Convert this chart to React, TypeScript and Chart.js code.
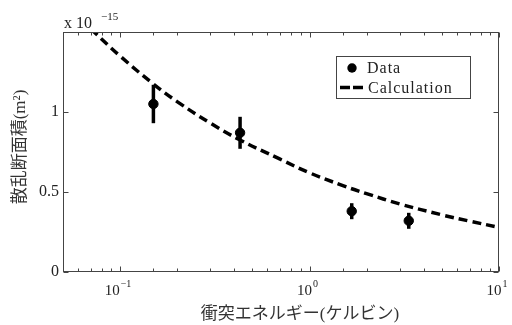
import React, { useEffect, useRef } from 'react';
import { Chart, registerables } from 'chart.js';

Chart.register(...registerables);

// Measured data (cross section in units of 1e-15 m^2)
const dataEnergies = [0.15, 0.43, 1.67, 3.34];
const dataCrossSections = [1.05, 0.87, 0.38, 0.32];
const dataErrors = [0.12, 0.1, 0.05, 0.05];

// Calculation curve
const calcEnergies = [0.07, 0.1, 0.15, 0.2, 0.3, 0.43, 0.7, 1, 1.5, 2, 3, 5, 7, 10];
const calcCrossSections = [1.52, 1.35, 1.175, 1.065, 0.93, 0.825, 0.705, 0.62, 0.54, 0.49, 0.425, 0.357, 0.318, 0.279];

// Tick labels
const yTickValues = [0, 0.5, 1];
const yTickLabels = ['0', '0.5', '1'];
const xLabelValues = [0.1, 1, 10];
const xLabelBases = ['10', '10', '10'];
const xLabelExponents = ['\u22121', '0', '1'];

const xTitle = '衝突エネルギー(ケルビン)';
const yTitle = '散乱断面積(m²)';
const legendLabels = ['Data', 'Calculation'];
const multiplierBase = 'x 10';
const multiplierExp = '\u221215';

const SERIF = '"Liberation Serif", "Noto Sans CJK JP", serif';
const TEXT = '#222';
const AXIS = '#444';

const decorPlugin = {
  id: 'decor',
  afterDatasetsDraw(chart: any) {
    const { ctx, scales } = chart;
    const x = scales.x;
    const y = scales.y;
    ctx.save();
    ctx.strokeStyle = '#000';
    ctx.lineWidth = 3.5;
    ctx.lineCap = 'butt';
    dataEnergies.forEach((e, i) => {
      const px = x.getPixelForValue(e);
      ctx.beginPath();
      ctx.moveTo(px, y.getPixelForValue(dataCrossSections[i] + dataErrors[i]));
      ctx.lineTo(px, y.getPixelForValue(dataCrossSections[i] - dataErrors[i]));
      ctx.stroke();
    });
    ctx.restore();
  },
  afterDraw(chart: any) {
    const { ctx, chartArea: a, scales } = chart;
    const x = scales.x;
    const y = scales.y;
    ctx.save();
    // frame
    ctx.strokeStyle = AXIS;
    ctx.lineWidth = 1;
    const L = Math.round(a.left) + 0.5;
    const R = Math.round(a.right) - 0.5;
    const T = Math.round(a.top) + 0.5;
    const B = Math.round(a.bottom) - 0.5;
    ctx.strokeRect(L, T, R - L, B - T);

    // x ticks (inward, bottom and top)
    x.ticks.forEach((t: any) => {
      const v = t.value;
      const lg = Math.log10(v);
      const major = Math.abs(lg - Math.round(lg)) < 1e-6;
      const len = major ? 5 : 3;
      const px = Math.round(x.getPixelForValue(v)) + 0.5;
      ctx.beginPath();
      ctx.moveTo(px, B);
      ctx.lineTo(px, B - len);
      ctx.moveTo(px, T);
      ctx.lineTo(px, T + len);
      ctx.stroke();
    });
    // y ticks (inward, left and right)
    y.ticks.forEach((t: any) => {
      const py = Math.round(y.getPixelForValue(t.value)) + 0.5;
      ctx.beginPath();
      ctx.moveTo(L, py);
      ctx.lineTo(L + 5, py);
      ctx.moveTo(R, py);
      ctx.lineTo(R - 5, py);
      ctx.stroke();
    });

    // x tick labels with superscripts
    ctx.fillStyle = TEXT;
    ctx.textBaseline = 'alphabetic';
    ctx.textAlign = 'left';
    xLabelValues.forEach((v, i) => {
      const px = x.getPixelForValue(v);
      ctx.font = `15px ${SERIF}`;
      const wb = ctx.measureText(xLabelBases[i]).width;
      ctx.font = `10px ${SERIF}`;
      const we = ctx.measureText(xLabelExponents[i]).width;
      const total = wb + 1 + we;
      const sx = px - total / 2 - 2;
      ctx.font = `15px ${SERIF}`;
      ctx.fillText(xLabelBases[i], sx, 295);
      ctx.font = `10px ${SERIF}`;
      ctx.fillText(xLabelExponents[i], sx + wb + 1, 287);
    });

    // multiplier
    ctx.font = `16px ${SERIF}`;
    ctx.fillText(multiplierBase, 64, 28);
    ctx.font = `11px ${SERIF}`;
    ctx.fillText(multiplierExp, 101, 20);

    // x title
    ctx.font = `17px ${SERIF}`;
    ctx.textAlign = 'center';
    ctx.textBaseline = 'middle';
    ctx.fillStyle = '#333';
    ctx.fillText(xTitle, 300, 315);

    // y title
    ctx.save();
    ctx.translate(21, 147);
    ctx.rotate(-Math.PI / 2);
    ctx.fillText(yTitle, 0, 0);
    ctx.restore();

    // legend
    ctx.fillStyle = '#fff';
    ctx.fillRect(336.5, 56.5, 134, 42);
    ctx.strokeStyle = AXIS;
    ctx.lineWidth = 1;
    ctx.strokeRect(336.5, 56.5, 134, 42);
    ctx.fillStyle = '#000';
    ctx.beginPath();
    ctx.arc(352, 68, 4.7, 0, Math.PI * 2);
    ctx.fill();
    ctx.strokeStyle = '#000';
    ctx.lineWidth = 3.5;
    ctx.setLineDash([10, 3]);
    ctx.beginPath();
    ctx.moveTo(340, 87.5);
    ctx.lineTo(363, 87.5);
    ctx.stroke();
    ctx.setLineDash([]);
    ctx.fillStyle = TEXT;
    ctx.textAlign = 'left';
    ctx.textBaseline = 'alphabetic';
    ctx.font = `16px ${SERIF}`;
    try { (ctx as any).letterSpacing = '1px'; } catch (e) {}
    ctx.fillText(legendLabels[0], 367, 73);
    ctx.fillText(legendLabels[1], 368, 93);
    try { (ctx as any).letterSpacing = '0px'; } catch (e) {}
    ctx.restore();
  },
};

export default function App() {
  const ref = useRef<HTMLCanvasElement | null>(null);
  useEffect(() => {
    if (!ref.current) return;
    const chart = new Chart(ref.current, {
      type: 'scatter',
      data: {
        datasets: [
          {
            label: legendLabels[0],
            data: dataEnergies.map((e, i) => ({ x: e, y: dataCrossSections[i] })),
            backgroundColor: '#000',
            borderColor: '#000',
            pointRadius: 4.7,
            pointHoverRadius: 4.7,
            showLine: false,
          },
          {
            label: legendLabels[1],
            data: calcEnergies.map((e, i) => ({ x: e, y: calcCrossSections[i] })),
            borderColor: '#000',
            borderWidth: 3.5,
            borderDash: [9, 5],
            pointRadius: 0,
            showLine: true,
            tension: 0.4,
          } as any,
        ],
      },
      options: {
        animation: false,
        responsive: false,
        devicePixelRatio: 1,
        layout: { padding: { top: 32, right: 13, left: 0, bottom: 0 } },
        plugins: { legend: { display: false }, tooltip: { enabled: false } },
        scales: {
          x: {
            type: 'logarithmic',
            min: 0.05,
            max: 10,
            grid: { display: false, drawTicks: false },
            border: { display: false },
            ticks: { display: false },
            afterFit: (s: any) => { s.height = 53; },
          },
          y: {
            type: 'linear',
            min: 0,
            max: 1.5,
            grid: { display: false, drawTicks: false },
            border: { display: false },
            ticks: {
              stepSize: 0.5,
              padding: 4,
              color: TEXT,
              font: { family: SERIF, size: 16 },
              callback: (v: any) => {
                const idx = yTickValues.findIndex((t) => Math.abs(t - Number(v)) < 1e-9);
                return idx >= 0 ? yTickLabels[idx] : '';
              },
            },
            afterFit: (s: any) => { s.width = 63; },
          },
        },
      } as any,
      plugins: [decorPlugin],
    });
    return () => chart.destroy();
  }, []);
  return (
    <div style={{ position: 'fixed', left: 0, top: 0, width: 512, height: 325, background: '#fff' }}>
      <canvas ref={ref} width={512} height={325} />
    </div>
  );
}
